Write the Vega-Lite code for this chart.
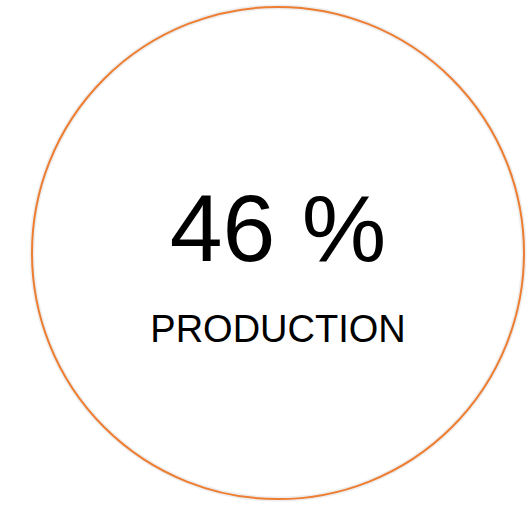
{
  "$schema": "https://vega.github.io/schema/vega-lite/v6.json",
  "autosize": {"type": "fit", "contains": "padding"},
  "width": 528,
  "height": 506,
  "padding": {"left": 28, "right": 0, "top": 0, "bottom": 0},
  "background": "white",
  "config": {"view": {"stroke": null}},
  "data": {"values": [{"metric": "PRODUCTION", "percent": 46}]},
  "transform": [{"calculate": "datum.percent + ' %'", "as": "percentLabel"}],
  "layer": [
    {
      "mark": {"type": "point", "shape": "circle", "size": 242064, "filled": false, "stroke": "#bbbbbb", "strokeWidth": 5, "strokeOpacity": 0.35},
      "encoding": {}
    },
    {
      "mark": {"type": "point", "shape": "circle", "size": 242064, "filled": false, "stroke": "#ED7D31", "strokeWidth": 2, "opacity": 1},
      "encoding": {}
    },
    {
      "mark": {"type": "text", "font": "Liberation Sans", "fontSize": 95, "color": "#000000", "align": "center", "baseline": "alphabetic", "dy": 8},
      "encoding": {"text": {"field": "percentLabel"}}
    },
    {
      "mark": {"type": "text", "font": "Liberation Sans", "fontSize": 38, "color": "#000000", "align": "center", "baseline": "alphabetic", "dy": 89},
      "encoding": {"text": {"field": "metric"}}
    }
  ]
}
